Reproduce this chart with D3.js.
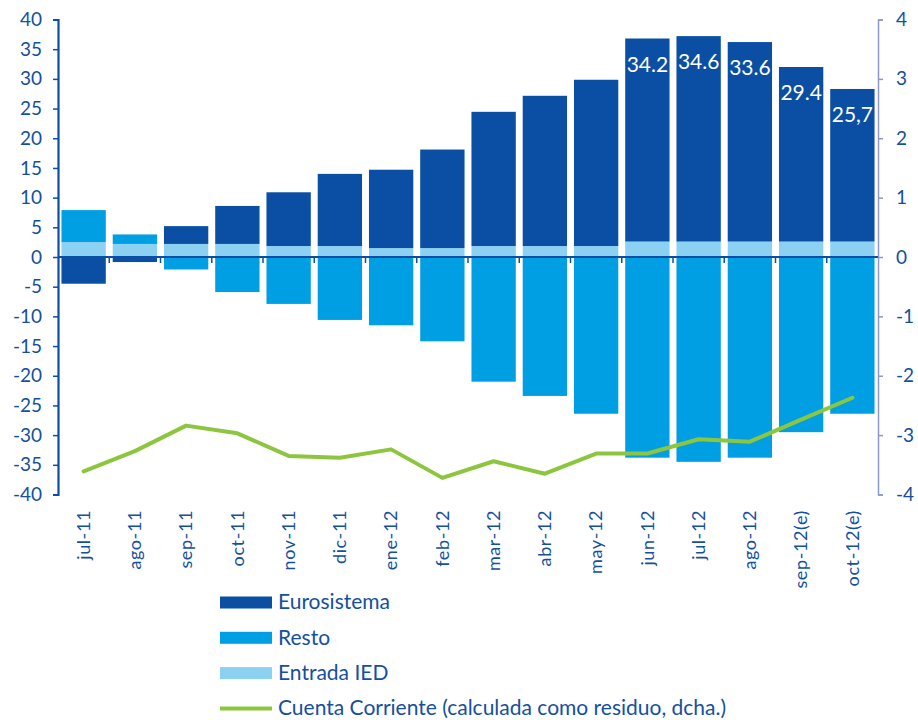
<!DOCTYPE html>
<html>
<head>
<meta charset="utf-8">
<script src="https://cdn.jsdelivr.net/npm/d3@7"></script>
<style>
  html, body { margin: 0; padding: 0; background: #fff; }
  svg { display: block; font-family: Lato, "Open Sans", sans-serif; }
</style>
</head>
<body>
<svg id="chart" width="918" height="720"></svg>
<script>
// Months shown on the horizontal axis
const months = ["jul-11","ago-11","sep-11","oct-11","nov-11","dic-11","ene-12","feb-12",
                "mar-12","abr-12","may-12","jun-12","jul-12","ago-12","sep-12(e)","oct-12(e)"];

// Flows (bn €), left axis
const eurosistema = [-4.5, -0.85, 3.0, 6.4, 9.05, 12.15, 13.2, 16.6, 22.6, 25.3, 28.0, 34.2, 34.6, 33.6, 29.4, 25.7];
const resto       = [5.4, 1.6, -2.1, -5.9, -7.9, -10.6, -11.5, -14.2, -21.0, -23.4, -26.4, -33.8, -34.5, -33.8, -29.5, -26.4];
const entradaIED  = [2.5, 2.2, 2.2, 2.2, 1.85, 1.85, 1.5, 1.5, 1.85, 1.85, 1.85, 2.6, 2.6, 2.6, 2.6, 2.6];

// Current account, right axis
const cuentaCorriente = [-3.61, -3.27, -2.84, -2.97, -3.35, -3.38, -3.24, -3.72, -3.44, -3.65, -3.31, -3.31, -3.07, -3.11, -2.74, -2.37];

// Value labels printed inside the last Eurosistema bars
const labelMonths = ["jun-12","jul-12","ago-12","sep-12(e)","oct-12(e)"];
const labelTexts  = ["34.2","34.6","33.6","29.4","25,7"];

// Axis ticks
const leftTicks  = [40, 35, 30, 25, 20, 15, 10, 5, 0, -5, -10, -15, -20, -25, -30, -35, -40];
const rightTicks = [4, 3, 2, 1, 0, -1, -2, -3, -4];

const legendItems = ["Eurosistema", "Resto", "Entrada IED", "Cuenta Corriente (calculada como residuo, dcha.)"];

const C = {
  euro: "#0a4fa3",
  resto: "#009fe3",
  ied: "#8dd1f2",
  line: "#8cc63f",
  axis: "#0a4fa3",
  axisR: "#8e98c6",
  text: "#1450a0"
};

const svg = d3.select("#chart");
const plotLeft = 58, plotRight = 878, plotTop = 19.5, plotBottom = 494.5;

const x = d3.scaleBand().domain(months).range([plotLeft, plotRight]).padding(0);
const y = d3.scaleLinear().domain([-40, 40]).range([plotBottom, plotTop]);
const y2 = d3.scaleLinear().domain([-4, 4]).range([plotBottom, plotTop]);

const barW = x.bandwidth() * 0.865;
const barOff = (x.bandwidth() - barW) / 2;

// Stacked segments: positives stack upward from 0, negatives downward
const segments = [];
months.forEach((m, i) => {
  let pos = 0, neg = 0;
  const parts = [
    {key: "ied", v: entradaIED[i]},
    {key: "resto", v: resto[i]},
    {key: "euro", v: eurosistema[i]}
  ];
  parts.forEach(p => {
    if (p.v >= 0) { segments.push({m, key: p.key, y0: pos, y1: pos + p.v}); pos += p.v; }
    else { segments.push({m, key: p.key, y0: neg + p.v, y1: neg}); neg += p.v; }
  });
});

svg.append("g").selectAll("rect").data(segments).join("rect")
  .attr("x", d => x(d.m) + barOff)
  .attr("width", barW)
  .attr("y", d => y(d.y1))
  .attr("height", d => y(d.y0) - y(d.y1))
  .attr("fill", d => C[d.key]);

// Value labels
svg.append("g").selectAll("text").data(labelMonths).join("text")
  .attr("x", d => x(d) + x.bandwidth() / 2)
  .attr("y", d => {
    const k = months.indexOf(d);
    return y(entradaIED[k] + eurosistema[k]) + 33;
  })
  .attr("text-anchor", "middle")
  .attr("fill", "#fff")
  .attr("font-size", 21)
  .text((d, i) => labelTexts[i]);

// Left axis
const gL = svg.append("g").attr("transform", `translate(${plotLeft},0)`)
  .call(d3.axisLeft(y).tickValues(leftTicks).tickSize(5).tickPadding(11).tickFormat(d => String(d)));
gL.select(".domain").attr("stroke", C.axis).attr("stroke-width", 2.2);
gL.selectAll(".tick line").attr("stroke", C.axis).attr("stroke-width", 1.5);
gL.selectAll(".tick text").attr("fill", C.text).attr("font-size", 19).attr("font-family", "Lato, sans-serif");

// Right axis
const gR = svg.append("g").attr("transform", `translate(${plotRight},0)`)
  .call(d3.axisRight(y2).tickValues(rightTicks).tickSize(5).tickPadding(13).tickFormat(d => String(d)));
gR.select(".domain").attr("stroke", C.axisR).attr("stroke-width", 1.5);
gR.selectAll(".tick line").attr("stroke", C.axisR).attr("stroke-width", 1.5);
gR.selectAll(".tick text").attr("fill", C.text).attr("font-size", 19).attr("font-family", "Lato, sans-serif");

// Zero line with ticks at month boundaries
const gX = svg.append("g").attr("transform", `translate(0,${y(0)})`);
gX.append("line").attr("x1", plotLeft).attr("x2", plotRight).attr("stroke", C.axis).attr("stroke-width", 2.2);
gX.selectAll("line.tk").data(months.slice(1)).join("line").attr("class", "tk")
  .attr("x1", d => x(d)).attr("x2", d => x(d))
  .attr("y1", 0).attr("y2", 6)
  .attr("stroke", C.axis).attr("stroke-width", 1.5);

// Month labels (rotated)
svg.append("g").selectAll("text").data(months).join("text")
  .attr("transform", d => `translate(${x(d) + x.bandwidth() / 2},510) rotate(-90)`)
  .attr("text-anchor", "end")
  .attr("dy", "0.35em")
  .attr("fill", C.text)
  .attr("font-size", 18)
  .attr("letter-spacing", 0.6)
  .text(d => d);

// Current account line
svg.append("path")
  .datum(cuentaCorriente)
  .attr("fill", "none")
  .attr("stroke", C.line)
  .attr("stroke-width", 4)
  .attr("stroke-linejoin", "round")
  .attr("stroke-linecap", "round")
  .attr("d", d3.line().x((d, i) => x(months[i]) + x.bandwidth() / 2).y(d => y2(d)));

// Legend
const lg = svg.append("g").attr("transform", "translate(220,602.5)");
legendItems.forEach((t, i) => {
  const g = lg.append("g").attr("transform", `translate(0,${i * 35.3})`);
  if (i < 3) {
    g.append("rect").attr("x", 0).attr("y", -6).attr("width", 52).attr("height", 12)
      .attr("fill", [C.euro, C.resto, C.ied][i]);
  } else {
    g.append("line").attr("x1", 0).attr("x2", 52).attr("y1", 0).attr("y2", 0)
      .attr("stroke", C.line).attr("stroke-width", 4);
  }
  g.append("text").attr("x", 58).attr("dy", "0.33em")
    .attr("fill", C.text).attr("font-size", 21).text(t);
});
</script>
</body>
</html>
